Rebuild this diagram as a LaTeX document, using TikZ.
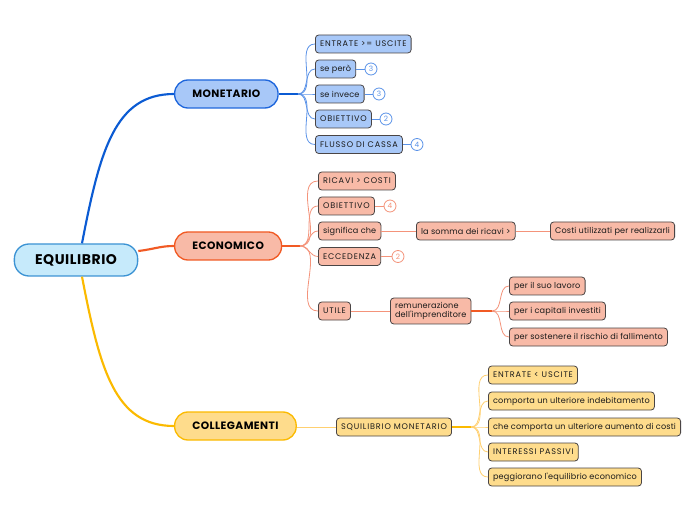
\documentclass[tikz,border=0pt]{standalone}
\usepackage{fontspec}
\setmainfont{Poppins}
\newfontfamily\capsfont[LetterSpace=10]{Poppins}
\newfontfamily\lowfont[LetterSpace=2]{Poppins}
\newfontfamily\topicfont[LetterSpace=4]{Poppins}
\begin{document}
\begin{tikzpicture}[x=0.75pt,y=-0.75pt,
  rootbox/.style={draw=rootbd,fill=rootfill,line width=1pt,rounded corners=11pt,minimum height=32*0.75pt,inner xsep=15.5pt,font=\fontsize{10.5}{12}\selectfont\topicfont\bfseries,text=black},
  topicbox/.style={line width=1pt,rounded corners=10pt,minimum height=28*0.75pt,inner xsep=13.25pt,font=\fontsize{8}{10}\selectfont\topicfont\bfseries,text=black,anchor=west},
  subbox/.style={draw=subbd,line width=0.6pt,rounded corners=2.5pt,minimum height=18*0.75pt,inner xsep=3.5pt,inner ysep=2pt,font=\fontsize{6.1}{7.2}\selectfont\lowfont,text=txt,anchor=west,align=left},
  capsbox/.style={subbox,font=\fontsize{6.1}{7.2}\selectfont\capsfont},
  mline/.style={line width=1.6pt},
  sline/.style={line width=0.6pt},
  badge/.style={circle,draw,fill=white,line width=0.6pt,minimum size=12*0.75pt,inner sep=0pt,font=\fontsize{5.5}{6}\selectfont}
]
\definecolor{rootfill}{HTML}{C6EAFB}
\definecolor{rootbd}{HTML}{3C93D4}
\definecolor{bluefill}{HTML}{A8C8F8}
\definecolor{bluebd}{HTML}{1E66DC}
\definecolor{bluemain}{HTML}{0B5BD3}
\definecolor{bluesub}{HTML}{5B93E8}
\definecolor{redfill}{HTML}{F8BAA7}
\definecolor{redbd}{HTML}{F15A24}
\definecolor{redsub}{HTML}{F4937A}
\definecolor{yelfill}{HTML}{FEDC8C}
\definecolor{yelbd}{HTML}{FBBA00}
\definecolor{yelsub}{HTML}{FFD070}
\definecolor{subbd}{HTML}{4A4545}
\definecolor{txt}{HTML}{1A1A1A}
\useasboundingbox (0,0) rectangle (696,520);
\fill[white] (0,0) rectangle (696,520);

% root and topics
\node[rootbox] (root) at (76,260) {EQUILIBRIO};
\node[topicbox,draw=bluebd,fill=bluefill] (mon) at (174,94) {MONETARIO};
\node[topicbox,draw=redbd,fill=redfill] (eco) at (174,246) {ECONOMICO};
\node[topicbox,draw=yelbd,fill=yelfill] (col) at (174,426) {COLLEGAMENTI};

\draw[mline,bluemain] ([xshift=4.5pt]root.north) .. controls (100,150) and (115,94) .. (mon.west);
\draw[mline,redbd] (root.east|-0,251) .. controls (155,249) and (160,246) .. (eco.west);
\draw[mline,yelbd] ([xshift=4.5pt]root.south) .. controls (100,370) and (115,426) .. (col.west);

% MONETARIO children
\begin{scope}[every node/.append style={fill=bluefill}]
\node[capsbox] (m1) at (315,44) {ENTRATE >= USCITE};
\node[subbox] (m2) at (315,69) {se però};
\node[subbox] (m3) at (315,94) {se invece};
\node[capsbox] (m4) at (315,119) {OBIETTIVO};
\node[capsbox] (m5) at (315,144.5) {FLUSSO DI CASSA};
\end{scope}
\coordinate (mf) at (298,94);
\draw[line width=1pt,bluemain] (mon.east) -- (mf);
\foreach \c in {m1,m2,m3,m4,m5} \draw[sline,bluesub] (mf) to[out=0,in=180] (\c.west);
\begin{scope}[every node/.append style={badge,draw=bluesub,text=bluesub}]
\node (b2) at (371,69) {3};
\node (b3) at (379,94) {3};
\node (b4) at (386,119) {2};
\node (b5) at (417,144.5) {4};
\end{scope}
\draw[sline,bluesub] (m2.east) -- (b2); \draw[sline,bluesub] (m3.east) -- (b3);
\draw[sline,bluesub] (m4.east) -- (b4); \draw[sline,bluesub] (m5.east) -- (b5);

% ECONOMICO children
\begin{scope}[every node/.append style={fill=redfill}]
\node[capsbox] (e1) at (318,181) {RICAVI > COSTI};
\node[capsbox] (e2) at (318,206) {OBIETTIVO};
\node[subbox] (e3) at (318,231) {significa che};
\node[capsbox] (e4) at (318,256.5) {ECCEDENZA};
\node[capsbox] (e5) at (318,311) {UTILE};
\node[subbox] (e31) at (416,231) {la somma dei ricavi >};
\node[subbox] (e32) at (550,231) {Costi utilizzati per realizzarli};
\node[subbox,inner ysep=3pt] (e51) at (390,311) {remunerazione\\dell'imprenditore};
\node[subbox] (e511) at (509,286) {per il suo lavoro};
\node[subbox] (e512) at (509,311) {per i capitali investiti};
\node[subbox] (e513) at (509,337) {per sostenere il rischio di fallimento};
\end{scope}
\coordinate (ef) at (300,246);
\draw[line width=1pt,redbd] (eco.east) -- (ef);
\foreach \c in {e1,e2,e3,e4,e5} \draw[sline,redsub] (ef) to[out=0,in=180] (\c.west);
\draw[sline,redsub] (e3.east) -- (e31.west);
\draw[sline,redsub] (e31.east) -- (e32.west);
\draw[sline,redsub] (e5.east) -- (e51.west);
\coordinate (euf) at (492,311);
\draw[line width=1pt,redbd] (e51.east) -- (euf);
\foreach \c in {e511,e512,e513} \draw[sline,redsub] (euf) to[out=0,in=180] (\c.west);
\begin{scope}[every node/.append style={badge,draw=redsub,text=redsub}]
\node (eb2) at (390,206) {4};
\node (eb4) at (398,256.5) {2};
\end{scope}
\draw[sline,redsub] (e2.east) -- (eb2); \draw[sline,redsub] (e4.east) -- (eb4);

% COLLEGAMENTI children
\begin{scope}[every node/.append style={fill=yelfill}]
\node[capsbox] (c1) at (336,427) {SQUILIBRIO MONETARIO};
\node[capsbox] (c11) at (488,375) {ENTRATE < USCITE};
\node[subbox] (c12) at (488,401) {comporta un ulteriore indebitamento};
\node[subbox] (c13) at (488,427) {che comporta un ulteriore aumento di costi};
\node[capsbox] (c14) at (488,452) {INTERESSI PASSIVI};
\node[subbox] (c15) at (488,477) {peggiorano l'equilibrio economico};
\end{scope}
\draw[sline,yelsub] (col.east|-0,427) -- (c1.west);
\coordinate (cf) at (471,427);
\draw[line width=1pt,yelbd] (c1.east) -- (cf);
\foreach \c in {c11,c12,c13,c14,c15} \draw[sline,yelsub] (cf) to[out=0,in=180] (\c.west);
\end{tikzpicture}
\end{document}
